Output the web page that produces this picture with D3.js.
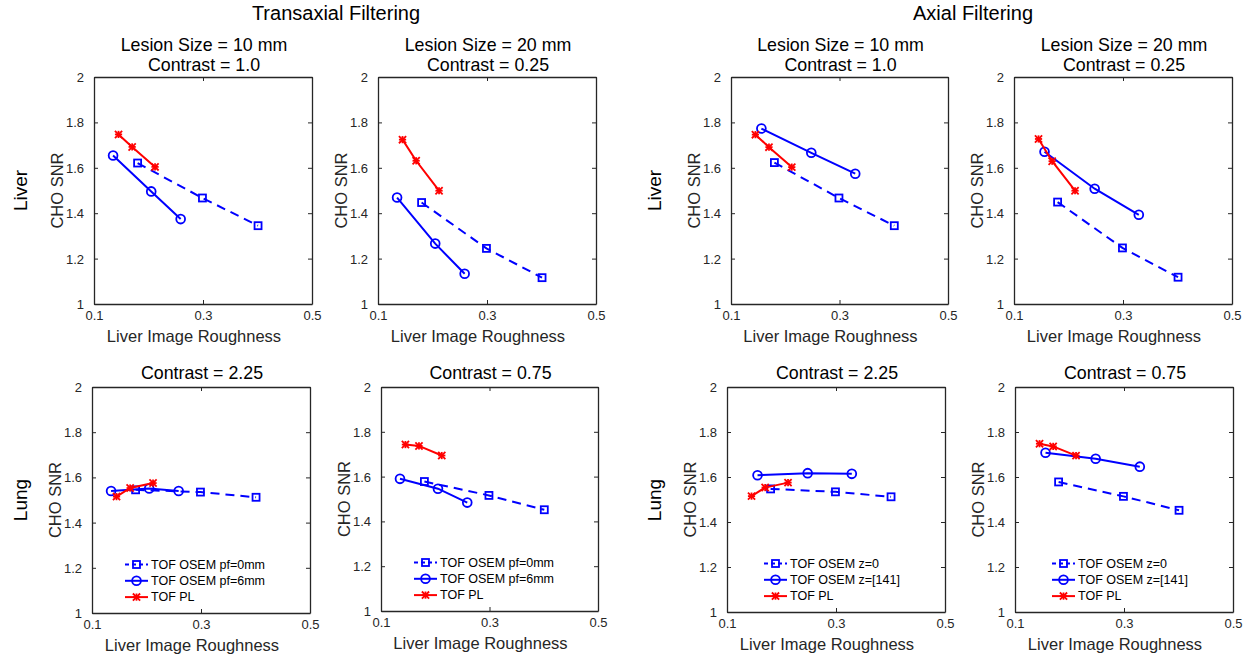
<!DOCTYPE html>
<html>
<head>
<meta charset="utf-8">
<script src="https://cdn.jsdelivr.net/npm/d3@7"></script>
<style>
  body { margin: 0; background: #ffffff; }
  svg { display: block; }
  text { font-family: "Liberation Sans", Arial, Helvetica, sans-serif; fill: #262626; }
</style>
</head>
<body>
<svg id="fig" width="1248" height="657"></svg>
<script>
// ---- Data ----------------------------------------------------------------
const xTickVals = [0.1, 0.3, 0.5];
const yTickVals = [1, 1.2, 1.4, 1.6, 1.8, 2];
const xDomain = [0.1, 0.5];
const yDomain = [1, 2];

const groupTitles = ["Transaxial Filtering", "Axial Filtering"];
const rowNames = ["Liver", "Lung"];
const xLabel = "Liver Image Roughness";
const yLabel = "CHO SNR";

const titlesTop = [["Lesion Size = 10 mm", "Contrast = 1.0"], ["Lesion Size = 20 mm", "Contrast = 0.25"]];
const titlesBottom = [["Contrast = 2.25"], ["Contrast = 0.75"]];

const legendTransaxial = ["TOF OSEM pf=0mm", "TOF OSEM pf=6mm", "TOF PL"];
const legendAxial = ["TOF OSEM z=0", "TOF OSEM z=[141]", "TOF PL"];

// roughness (x) of each reconstruction's three operating points
const xOsem0 = [0.180, 0.299, 0.401];
const xPf6   = [0.135, 0.205, 0.259];
const xZ141  = [0.156, 0.248, 0.329];
const xPL    = [0.145, 0.170, 0.212];

// CHO SNR (y) per panel
const liver10TransOsem0 = [1.621, 1.467, 1.345];
const liver10TransPf6   = [1.654, 1.496, 1.374];
const liver10TransPL    = [1.747, 1.692, 1.604];

const liver20TransOsem0 = [1.447, 1.245, 1.116];
const liver20TransPf6   = [1.469, 1.266, 1.133];
const liver20TransPL    = [1.724, 1.631, 1.499];

const liver10AxOsem0 = [1.623, 1.467, 1.345];
const liver10AxZ141  = [1.773, 1.666, 1.574];
const liver10AxPL    = [1.746, 1.691, 1.603];

const liver20AxOsem0 = [1.449, 1.247, 1.118];
const liver20AxZ141  = [1.671, 1.508, 1.393];
const liver20AxPL    = [1.727, 1.629, 1.499];

const lung225TransOsem0 = [1.545, 1.535, 1.512];
const lung225TransPf6   = [1.540, 1.551, 1.540];
const lung225TransPL    = [1.515, 1.553, 1.575];

const lung075TransOsem0 = [1.578, 1.516, 1.452];
const lung075TransPf6   = [1.590, 1.546, 1.484];
const lung075TransPL    = [1.743, 1.737, 1.694];

const lung225AxOsem0 = [1.547, 1.534, 1.512];
const lung225AxZ141  = [1.608, 1.617, 1.614];
const lung225AxPL    = [1.515, 1.553, 1.575];

const lung075AxOsem0 = [1.578, 1.514, 1.452];
const lung075AxZ141  = [1.708, 1.681, 1.646];
const lung075AxPL    = [1.748, 1.736, 1.695];

// ---- Styles ----------------------------------------------------------------
const BLUE = "#0000ff", RED = "#ff0000";
const styleOsem0 = { color: BLUE, dash: "9,6", marker: "square" };
const styleFilt  = { color: BLUE, dash: null,  marker: "circle" };
const stylePL    = { color: RED,  dash: null,  marker: "star" };

const zip = (xs, ys) => xs.map((x, i) => [x, ys[i]]);

// panel frames: [left, top, right, bottom]
const panels = [
  { box: [94, 77, 312, 304],   title: titlesTop[0],    group: 0, row: 0,
    series: [[xOsem0, liver10TransOsem0, styleOsem0], [xPf6, liver10TransPf6, styleFilt], [xPL, liver10TransPL, stylePL]] },
  { box: [378, 77, 596, 304],  title: titlesTop[1],    group: 0, row: 0,
    series: [[xOsem0, liver20TransOsem0, styleOsem0], [xPf6, liver20TransPf6, styleFilt], [xPL, liver20TransPL, stylePL]] },
  { box: [731, 77, 948, 304],  title: titlesTop[0],    group: 1, row: 0,
    series: [[xOsem0, liver10AxOsem0, styleOsem0], [xZ141, liver10AxZ141, styleFilt], [xPL, liver10AxPL, stylePL]] },
  { box: [1014, 77, 1232, 304], title: titlesTop[1],   group: 1, row: 0,
    series: [[xOsem0, liver20AxOsem0, styleOsem0], [xZ141, liver20AxZ141, styleFilt], [xPL, liver20AxPL, stylePL]] },
  { box: [92, 387, 310, 613],  title: titlesBottom[0], group: 0, row: 1, legend: legendTransaxial,
    series: [[xOsem0, lung225TransOsem0, styleOsem0], [xPf6, lung225TransPf6, styleFilt], [xPL, lung225TransPL, stylePL]] },
  { box: [381, 387, 598, 611], title: titlesBottom[1], group: 0, row: 1, legend: legendTransaxial,
    series: [[xOsem0, lung075TransOsem0, styleOsem0], [xPf6, lung075TransPf6, styleFilt], [xPL, lung075TransPL, stylePL]] },
  { box: [727, 387, 945, 612], title: titlesBottom[0], group: 1, row: 1, legend: legendAxial,
    series: [[xOsem0, lung225AxOsem0, styleOsem0], [xZ141, lung225AxZ141, styleFilt], [xPL, lung225AxPL, stylePL]] },
  { box: [1015, 387, 1233, 612], title: titlesBottom[1], group: 1, row: 1, legend: legendAxial,
    series: [[xOsem0, lung075AxOsem0, styleOsem0], [xZ141, lung075AxZ141, styleFilt], [xPL, lung075AxPL, stylePL]] }
];

const svg = d3.select("#fig");
const AXC = "#262626";

function drawMarker(g, kind, color, cx, cy) {
  const m = g.append("g").attr("transform", `translate(${cx},${cy})`)
    .attr("fill", "none").attr("stroke", color).attr("stroke-width", 1.8);
  if (kind === "square") {
    m.append("rect").attr("x", -3.5).attr("y", -3.5).attr("width", 7).attr("height", 7);
  } else if (kind === "circle") {
    m.append("circle").attr("r", 4.4);
  } else {
    const s = 3.6;
    m.append("line").attr("x1", -s).attr("y1", -s).attr("x2", s).attr("y2", s);
    m.append("line").attr("x1", -s).attr("y1", s).attr("x2", s).attr("y2", -s);
    m.append("line").attr("x1", 0).attr("y1", -s).attr("x2", 0).attr("y2", s);
    m.append("line").attr("x1", -s).attr("y1", 0).attr("x2", s).attr("y2", 0);
  }
}

panels.forEach(p => {
  const [L, T, R, B] = p.box;
  const x = d3.scaleLinear().domain(xDomain).range([L, R]);
  const y = d3.scaleLinear().domain(yDomain).range([B, T]);
  const g = svg.append("g");

  // axes with inward ticks, mirrored on top/right
  const tick = 4;
  const axB = g.append("g").attr("transform", `translate(0,${B})`)
    .call(d3.axisBottom(x).tickValues(xTickVals).tickSizeInner(-tick).tickSizeOuter(0).tickPadding(7)
      .tickFormat(d3.format(".1f")));
  const axT = g.append("g").attr("transform", `translate(0,${T})`)
    .call(d3.axisTop(x).tickValues(xTickVals).tickSizeInner(-tick).tickSizeOuter(0).tickFormat(""));
  const axL = g.append("g").attr("transform", `translate(${L},0)`)
    .call(d3.axisLeft(y).tickValues(yTickVals).tickSizeInner(-tick).tickSizeOuter(0).tickPadding(10)
      .tickFormat(d => (d === 1 || d === 2) ? d3.format("d")(d) : d3.format(".1f")(d)));
  const axR = g.append("g").attr("transform", `translate(${R},0)`)
    .call(d3.axisRight(y).tickValues(yTickVals).tickSizeInner(-tick).tickSizeOuter(0).tickFormat(""));
  [axB, axT, axL, axR].forEach(a => {
    a.select(".domain").attr("stroke", AXC).attr("stroke-width", 1.3);
    a.selectAll(".tick line").attr("stroke", AXC).attr("stroke-width", 1);
    a.selectAll(".tick text").attr("fill", AXC).style("font-size", "13px")
      .style("font-family", '"Liberation Sans", Arial, sans-serif');
  });
  axL.selectAll(".tick text").attr("dy", "0.34em");

  // titles
  p.title.forEach((t, i) => {
    const base = p.row === 0 ? T - 26 + i * 20 : T - 8;
    g.append("text").attr("x", (L + R) / 2 + 1).attr("y", base)
      .attr("text-anchor", "middle").style("font-size", "17.8px").style("fill", "#000").text(t);
  });

  // axis labels
  g.append("text").attr("x", (L + R) / 2 - 9).attr("y", B + 37.5)
    .attr("text-anchor", "middle").style("font-size", "16.5px").text(xLabel);
  g.append("text").attr("transform", `translate(${L - 37},${(T + B) / 2}) rotate(-90)`)
    .attr("text-anchor", "middle").attr("dy", "0.35em").style("font-size", "16.5px").text(yLabel);

  // series
  const lineGen = d3.line().x(d => x(d[0])).y(d => y(d[1]));
  p.series.forEach(([xs, ys, st]) => {
    const pts = zip(xs, ys);
    g.append("path").attr("d", lineGen(pts)).attr("fill", "none")
      .attr("stroke", st.color).attr("stroke-width", 2)
      .attr("stroke-dasharray", st.dash);
    pts.forEach(d => drawMarker(g, st.marker, st.color, x(d[0]), y(d[1])));
  });

  // legend
  if (p.legend) {
    const lx = L + (p.group === 0 ? 33 : 37);
    const ly0 = B - 48.5;
    const styles = [styleOsem0, styleFilt, stylePL];
    p.legend.forEach((name, i) => {
      const ly = ly0 + i * 16.3;
      const st = styles[i];
      g.append("line").attr("x1", lx).attr("x2", lx + 23).attr("y1", ly).attr("y2", ly)
        .attr("stroke", st.color).attr("stroke-width", 2)
        .attr("stroke-dasharray", st.dash ? "4,3" : null);
      drawMarker(g, st.marker, st.color, lx + 11.5, ly);
      g.append("text").attr("x", lx + 26).attr("y", ly).attr("dy", "0.35em")
        .style("font-size", "12.5px").style("fill", "#000").text(name);
    });
  }
});

// row labels
const rowLabelPos = [[20, 190.5], [20, 500], [654, 190.5], [654, 500]];
rowLabelPos.forEach((pos, i) => {
  svg.append("text").attr("transform", `translate(${pos[0]},${pos[1]}) rotate(-90)`)
    .attr("text-anchor", "middle").attr("dy", "0.35em").style("font-size", "19px")
    .style("fill", "#000").text(rowNames[i % 2]);
});

// group titles
const groupCenters = [336, 973];
groupTitles.forEach((t, i) => {
  svg.append("text").attr("x", groupCenters[i]).attr("y", 20)
    .attr("text-anchor", "middle").style("font-size", "20px").style("fill", "#000").text(t);
});
</script>
</body>
</html>
